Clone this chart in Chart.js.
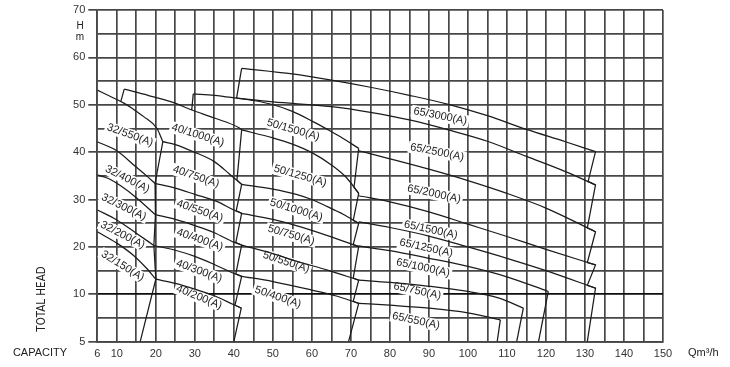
<!DOCTYPE html>
<html>
<head>
<meta charset="utf-8">
<script src="https://cdn.jsdelivr.net/npm/chart.js@4/dist/chart.umd.min.js"></script>
<style>
  html, body { margin: 0; padding: 0; background: #fff; }
</style>
</head>
<body>
<canvas id="pumpChart" width="730" height="367"></canvas>
<script>
// Pump curves, [Q m3/h, H m] pairs.
// H axis is drawn 0..70 with the bottom line labelled "5" (as on the sheet),
// Q axis 5..150 with the first line labelled "6".

// 32 series
const c32_550 = [[5, 53.1], [8, 51.9], [11.7, 50.4], [14, 49.2], [16.9, 47.5], [20.3, 45.0], [21.8, 42.2]];
const c32_400 = [[5, 42.2], [10, 40.3], [14.9, 36.9], [17.5, 35.1], [19.8, 33.4]];
const c32_300 = [[5, 35.2], [8, 34.4], [11, 32.9], [15, 30.4], [19.9, 26.8]];
const c32_200 = [[5, 27.8], [10, 25.7], [15, 22.9], [19.5, 20.3]];
const c32_150 = [[5, 23.2], [10, 20.8], [14.3, 18.2], [17.5, 15.6], [20, 13.2]];

// 40 series
const c40_1000 = [[11.9, 53.3], [18, 52.0], [24, 50.6], [29.2, 48.9], [35, 47.2], [41.2, 45.2], [42, 44.7]];
const c40_750 = [[21.8, 42.2], [25, 41.6], [29.6, 40.1], [35, 38.0], [39, 35.3], [42, 33.2]];
const c40_550 = [[19.8, 33.4], [25, 32.4], [30, 31.1], [35.6, 29.6], [40, 27.8], [42, 27.1]];
const c40_400 = [[19.9, 26.8], [25, 25.8], [30, 24.5], [35, 23.0], [40, 21.0], [42, 20.4]];
const c40_300 = [[19.5, 20.3], [25, 19.3], [30, 18.0], [35, 16.3], [40, 14.4], [42, 13.8]];
const c40_200 = [[20, 13.2], [25, 12.3], [30, 11.1], [35, 9.7], [40, 7.8], [41.9, 7.1]];

// 50 series
const c50_1500 = [[29.6, 52.3], [35, 52.0], [40.7, 51.4], [45, 50.9], [50.1, 50.0], [55, 48.6], [60.4, 46.4], [64, 44.8], [67.2, 43.3], [72, 40.8]];
const c50_1250 = [[42, 44.7], [50, 43.0], [55, 41.7], [60, 39.9], [65, 37.3], [69, 34.5], [72, 31.3]];
const c50_1000 = [[42, 33.2], [50, 32.2], [56, 31.1], [60, 30.0], [64, 28.5], [68, 26.9], [72, 25.0]];
const c50_750 = [[42, 27.1], [50, 25.8], [56, 24.5], [64, 22.4], [72, 20.1]];
const c50_550 = [[42, 20.4], [50, 18.6], [56, 17.0], [64, 15.1], [72, 13.0]];
const c50_400 = [[42, 13.8], [50, 12.7], [60, 10.9], [66, 9.7], [72, 8.1]];

// 65 series
const c65_3000 = [[42, 57.7], [55, 56.5], [65, 55.2], [75, 53.7], [85, 52.0], [95, 50.1], [105, 47.7], [115, 44.8], [125, 42.2], [132.7, 40.1]];
const c65_2500 = [[40.7, 51.4], [50, 50.6], [65, 49.6], [75, 48.4], [85, 46.8], [95, 44.7], [105, 42.3], [115, 39.1], [125, 35.9], [132.7, 33.1]];
const c65_2000 = [[72, 40.3], [80, 38.6], [90, 36.4], [100, 34.0], [110, 31.3], [120, 28.2], [132.7, 23.2]];
const c65_1500 = [[72, 30.8], [80, 29.5], [90, 27.4], [100, 24.8], [110, 22.2], [120, 19.5], [132.7, 16.2]];
const c65_1250 = [[72, 25.3], [80, 24.1], [90, 22.3], [100, 20.0], [110, 17.6], [120, 15.0], [132.7, 11.3]];
const c65_1000 = [[72, 20.2], [80, 19.2], [90, 17.6], [100, 15.9], [110, 13.7], [120.6, 10.6]];
const c65_750 = [[72, 13.0], [80, 12.5], [90, 11.7], [100, 10.6], [108, 9.2], [114.2, 7.1]];
const c65_550 = [[72, 8.1], [80, 7.7], [90, 7.1], [100, 6.1], [108.3, 4.6]];

// limit lines (zigzags at the ends of each series, little steps at the starts)
const b32 = [[21.8, 42.2], [19.8, 33.4], [19.9, 26.8], [19.5, 20.3], [20, 13.2], [16, 0]];
const b40 = [[42, 44.7], [40.8, 34.1], [42, 33.2], [40.6, 27.6], [42, 27.1], [40.5, 20.9], [42, 20.4], [40.5, 14.3], [42, 13.8], [40.3, 7.7], [41.9, 7.1], [40, 0]];
const b50 = [[72, 40.8], [70.8, 32.6], [72, 31.3], [70.6, 25.6], [72, 25.0], [70.6, 20.5], [72, 20.1], [70.6, 13.4], [72, 13.0], [70.6, 8.5], [72, 8.1], [69.4, 0]];
const b65 = [[132.7, 40.1], [130.8, 33.8], [132.7, 33.1], [130.6, 24.0], [132.7, 23.2], [130.6, 16.7], [132.7, 16.2], [130.6, 11.9], [132.7, 11.3], [130.6, 0]];
const b65_1000 = [[120.6, 10.6], [118.1, 0]];
const b65_750 = [[114.2, 7.1], [112.5, 0]];
const b65_550 = [[108.3, 4.6], [107.5, 0]];
const s40 = [[11, 50.6], [11.9, 53.3]];
const s50 = [[29.2, 48.9], [29.6, 52.3]];
const s65 = [[40.7, 51.4], [42, 57.7]];

const curveNames = [
    '32/550(A)', '32/400(A)', '32/300(A)', '32/200(A)', '32/150(A)',
    '40/1000(A)', '40/750(A)', '40/550(A)', '40/400(A)', '40/300(A)', '40/200(A)',
    '50/1500(A)', '50/1250(A)', '50/1000(A)', '50/750(A)', '50/550(A)', '50/400(A)',
    '65/3000(A)', '65/2500(A)', '65/2000(A)', '65/1500(A)', '65/1250(A)', '65/1000(A)', '65/750(A)', '65/550(A)'
];
const curves = [
    c32_550, c32_400, c32_300, c32_200, c32_150,
    c40_1000, c40_750, c40_550, c40_400, c40_300, c40_200,
    c50_1500, c50_1250, c50_1000, c50_750, c50_550, c50_400,
    c65_3000, c65_2500, c65_2000, c65_1500, c65_1250, c65_1000, c65_750, c65_550
];
const limits = [b32, b40, b50, b65, b65_1000, b65_750, b65_550, s40, s50, s65];

const xTicksLabelled = [5, 10, 20, 30, 40, 50, 60, 70, 80, 90, 100, 110, 120, 130, 140, 150];
const xTickText = ['6', '10', '20', '30', '40', '50', '60', '70', '80', '90', '100', '110', '120', '130', '140', '150'];
const yTicksLabelled = [0, 10, 20, 30, 40, 50, 60, 70];
const yTickText = ['5', '10', '20', '30', '40', '50', '60', '70'];

// where each curve name sits: [Q, H, angle in degrees]
const labelAt = [
    [13.4, 43.6, 20], [12.7, 34.3, 27], [11.8, 28.4, 26], [11.5, 22.5, 27], [11.5, 16.0, 32],
    [30.8, 43.6, 17], [30.3, 34.8, 19], [31.3, 27.6, 19], [31.3, 21.5, 19], [31.1, 14.9, 20], [31.1, 9.4, 22],
    [55.2, 44.7, 16], [57.0, 35.0, 16], [56.0, 27.8, 17], [54.7, 22.5, 16], [53.4, 16.8, 18], [51.3, 9.4, 19],
    [92.9, 47.6, 11], [92.1, 40.0, 11], [91.3, 31.2, 12], [90.5, 23.6, 12], [89.3, 19.8, 12], [88.5, 15.6, 12], [87.0, 10.7, 12], [86.7, 4.4, 12]
];

const FONT = "'Liberation Sans', Arial, sans-serif";
const INK = '#1c1c1c';
const GRID = '#474747';

const toXY = pts => pts.map(([x, y]) => ({ x, y }));

const datasets = [];
curves.forEach((pts, i) => {
    datasets.push({
        label: curveNames[i],
        data: toXY(pts),
        showLine: true,
        pointRadius: 0,
        borderColor: INK,
        borderWidth: 1.25,
        cubicInterpolationMode: 'monotone'
    });
});
limits.forEach(pts => {
    datasets.push({
        data: toXY(pts),
        showLine: true,
        pointRadius: 0,
        borderColor: INK,
        borderWidth: 1.25,
        tension: 0
    });
});

// curve names, with white boxes that break the grid behind them
const curveLabels = {
    id: 'curveLabels',
    beforeDatasetsDraw(chart) {
        const { ctx, scales: { x, y } } = chart;
        ctx.save();
        ctx.font = '11px ' + FONT;
        labelAt.forEach(([q, h, a], i) => {
            const w = ctx.measureText(curveNames[i]).width;
            ctx.save();
            ctx.translate(x.getPixelForValue(q), y.getPixelForValue(h));
            ctx.rotate(a * Math.PI / 180);
            ctx.fillStyle = '#fff';
            ctx.fillRect(-w / 2 - 2, -6, w + 4, 12);
            ctx.restore();
        });
        ctx.restore();
    },
    afterDatasetsDraw(chart) {
        const { ctx, scales: { x, y } } = chart;
        ctx.save();
        ctx.font = '11px ' + FONT;
        ctx.fillStyle = '#222';
        ctx.textAlign = 'center';
        ctx.textBaseline = 'middle';
        labelAt.forEach(([q, h, a], i) => {
            ctx.save();
            ctx.translate(x.getPixelForValue(q), y.getPixelForValue(h));
            ctx.rotate(a * Math.PI / 180);
            ctx.fillText(curveNames[i], 0, 0);
            ctx.restore();
        });
        ctx.restore();
    }
};

// axis captions
const captions = {
    id: 'captions',
    afterDraw(chart) {
        const { ctx } = chart;
        ctx.save();
        ctx.fillStyle = '#222';
        ctx.textAlign = 'center';
        ctx.textBaseline = 'middle';
        ctx.font = '10px ' + FONT;
        ctx.fillText('H', 80, 26);
        ctx.fillText('m', 80, 37);
        ctx.font = '11px ' + FONT;
        ctx.fillText('CAPACITY', 40, 353);
        ctx.textAlign = 'left';
        ctx.fillText('Qm\u00B3/h', 688, 353);
        ctx.translate(42, 299);
        ctx.rotate(-Math.PI / 2);
        ctx.textAlign = 'center';
        ctx.font = "11.5px 'Liberation Sans Narrow', 'DejaVu Sans Condensed', " + FONT;
        ctx.fillText('TOTAL HEAD', 0, 0);
        ctx.restore();
    }
};

const gridColor = c => (c.tick && c.tick.value === 10 && c.scale.axis === 'y') ? '#0d0d0d' : GRID;

new Chart(document.getElementById('pumpChart'), {
    type: 'scatter',
    data: { datasets },
    options: {
        responsive: false,
        animation: false,
        events: [],
        layout: { padding: { top: 10, right: 67, bottom: 0, left: 0 } },
        plugins: { legend: { display: false }, tooltip: { enabled: false } },
        scales: {
            x: {
                type: 'linear', min: 5, max: 150,
                afterFit: s => { s.height = 25.3; },
                border: { color: GRID, width: 1.7 },
                grid: { color: gridColor, lineWidth: 1.7, drawTicks: false },
                ticks: {
                    stepSize: 5, autoSkip: false, maxRotation: 0, padding: 6,
                    color: '#333', font: { family: FONT, size: 11 },
                    callback: v => { const k = xTicksLabelled.indexOf(v); return k < 0 ? '' : xTickText[k]; }
                }
            },
            y: {
                type: 'linear', min: 0, max: 70,
                afterFit: s => { s.width = 97.3; },
                border: { color: GRID, width: 1.7 },
                grid: {
                    color: gridColor, lineWidth: 1.7, tickLength: 9,
                    tickColor: c => (c.tick && yTicksLabelled.includes(c.tick.value)) ? GRID : 'rgba(0,0,0,0)'
                },
                ticks: {
                    stepSize: 5, autoSkip: false, padding: 3,
                    color: '#333', font: { family: FONT, size: 11 },
                    callback: v => { const k = yTicksLabelled.indexOf(v); return k < 0 ? '' : yTickText[k]; }
                }
            }
        }
    },
    plugins: [curveLabels, captions]
});
</script>
</body>
</html>
